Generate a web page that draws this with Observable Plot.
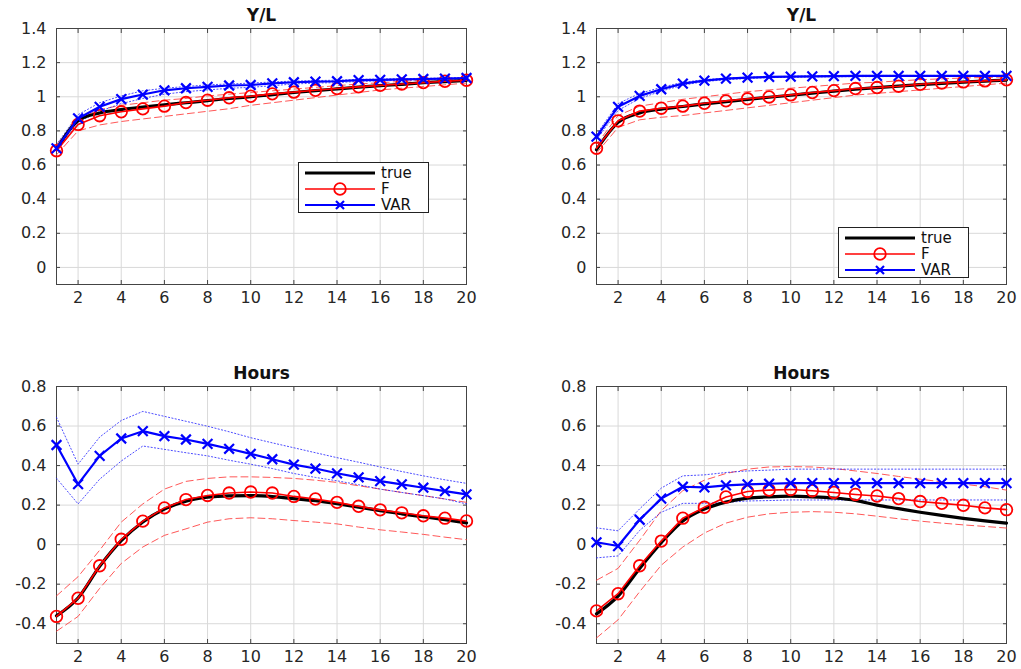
<!DOCTYPE html>
<html>
<head>
<meta charset="utf-8">
<script src="https://cdn.jsdelivr.net/npm/d3@7"></script>
<script src="https://cdn.jsdelivr.net/npm/@observablehq/plot@0.6"></script>
<style>
  html, body { margin: 0; padding: 0; background: #fff; }
  #root { position: relative; width: 1021px; height: 669px; overflow: hidden; font-family: "DejaVu Sans", sans-serif; }
  .panel { position: absolute; overflow: visible; }
  .legend { position: absolute; background: #fff; border: 1px solid #222; box-sizing: border-box; }
  .legend .row { position: absolute; left: 0; height: 16px; width: 100%; }
  .legend .row svg { position: absolute; left: 6px; top: 0; }
  .legend .row span { position: absolute; left: 82px; top: 0px; font-size: 15px; color: #111; line-height: 16px; }
</style>
</head>
<body>
<div id="root"></div>
<script>
// horizons
const steps = [1,2,3,4,5,6,7,8,9,10,11,12,13,14,15,16,17,18,19,20];
const seriesNames = ["true", "F", "VAR"];
const titles = ["Y/L", "Y/L", "Hours", "Hours"];
const xTicks = [2,4,6,8,10,12,14,16,18,20];
const yTicksTop = [0,0.2,0.4,0.6,0.8,1,1.2,1.4];
const yTicksBottom = [-0.4,-0.2,0,0.2,0.4,0.6,0.8];

// ---- Panel 1: top-left, Y/L ----
const tlTrue  = [0.69,0.86,0.905,0.925,0.94,0.953,0.965,0.977,0.99,1.0,1.013,1.025,1.036,1.046,1.056,1.065,1.073,1.082,1.089,1.096];
const tlF     = [0.684,0.838,0.889,0.912,0.929,0.945,0.966,0.98,0.994,1.003,1.017,1.027,1.038,1.048,1.058,1.067,1.075,1.083,1.091,1.097];
const tlFUp   = [0.72,0.87,0.925,0.95,0.965,0.98,0.99,1.005,1.015,1.025,1.035,1.045,1.055,1.065,1.075,1.082,1.09,1.097,1.103,1.108];
const tlFLo   = [0.66,0.80,0.835,0.855,0.87,0.885,0.90,0.915,0.93,0.95,0.965,0.98,0.995,1.01,1.025,1.04,1.05,1.06,1.07,1.08];
const tlVar   = [0.698,0.873,0.941,0.986,1.013,1.038,1.05,1.058,1.066,1.069,1.079,1.085,1.089,1.091,1.097,1.099,1.102,1.104,1.106,1.11];
const tlVarUp = [0.72,0.895,0.965,1.005,1.035,1.05,1.06,1.07,1.075,1.08,1.087,1.092,1.095,1.097,1.102,1.104,1.106,1.108,1.11,1.114];
const tlVarLo = [0.68,0.85,0.915,0.96,0.99,1.015,1.03,1.04,1.05,1.055,1.065,1.075,1.08,1.083,1.09,1.093,1.097,1.1,1.102,1.106];

// ---- Panel 2: top-right, Y/L ----
const trTrue  = [0.69,0.85,0.905,0.928,0.943,0.958,0.972,0.985,0.997,1.009,1.021,1.033,1.044,1.053,1.062,1.071,1.079,1.086,1.092,1.098];
const trF     = [0.698,0.859,0.916,0.933,0.945,0.962,0.976,0.988,0.999,1.011,1.025,1.036,1.048,1.054,1.062,1.073,1.081,1.087,1.093,1.099];
const trFUp   = [0.72,0.89,0.945,0.965,0.985,1.0,1.015,1.03,1.04,1.05,1.06,1.07,1.08,1.085,1.093,1.1,1.105,1.11,1.113,1.116];
const trFLo   = [0.67,0.82,0.865,0.88,0.89,0.905,0.92,0.935,0.95,0.965,0.98,0.995,1.01,1.02,1.03,1.04,1.05,1.06,1.07,1.08];
const trVar   = [0.766,0.941,1.005,1.044,1.077,1.095,1.106,1.112,1.116,1.118,1.119,1.121,1.122,1.122,1.122,1.122,1.122,1.122,1.122,1.122];
const trVarUp = [0.78,0.96,1.02,1.055,1.085,1.1,1.11,1.115,1.118,1.12,1.123,1.124,1.125,1.125,1.125,1.125,1.125,1.125,1.125,1.125];
const trVarLo = [0.75,0.92,0.99,1.033,1.068,1.089,1.1,1.107,1.112,1.114,1.116,1.117,1.118,1.118,1.119,1.119,1.119,1.119,1.119,1.119];

// ---- Panel 3: bottom-left, Hours ----
const blTrue  = [-0.36,-0.27,-0.11,0.02,0.115,0.18,0.22,0.24,0.247,0.248,0.243,0.233,0.222,0.207,0.19,0.172,0.156,0.141,0.126,0.11];
const blF     = [-0.363,-0.271,-0.107,0.027,0.119,0.186,0.228,0.249,0.261,0.266,0.261,0.244,0.231,0.214,0.194,0.176,0.161,0.146,0.134,0.12];
const blFUp   = [-0.259,-0.162,-0.028,0.114,0.206,0.281,0.32,0.335,0.343,0.343,0.34,0.335,0.326,0.315,0.298,0.281,0.264,0.248,0.231,0.214];
const blFLo   = [-0.438,-0.363,-0.221,-0.095,-0.012,0.047,0.08,0.114,0.131,0.136,0.131,0.122,0.114,0.105,0.089,0.075,0.064,0.052,0.038,0.025];
const blVar   = [0.504,0.306,0.449,0.537,0.574,0.549,0.532,0.51,0.485,0.459,0.432,0.405,0.385,0.361,0.34,0.321,0.305,0.288,0.271,0.254];
const blVarUp = [0.644,0.407,0.544,0.628,0.674,0.649,0.624,0.599,0.571,0.541,0.515,0.49,0.465,0.44,0.417,0.393,0.37,0.348,0.328,0.31];
const blVarLo = [0.336,0.206,0.331,0.423,0.499,0.482,0.465,0.449,0.427,0.407,0.385,0.36,0.34,0.323,0.303,0.281,0.264,0.248,0.231,0.206];

// ---- Panel 4: bottom-right, Hours ----
const brTrue  = [-0.35,-0.26,-0.12,0.01,0.12,0.18,0.215,0.235,0.242,0.245,0.242,0.236,0.224,0.2,0.182,0.164,0.148,0.133,0.12,0.109];
const brF     = [-0.335,-0.248,-0.107,0.018,0.134,0.189,0.241,0.269,0.276,0.279,0.273,0.264,0.254,0.246,0.233,0.218,0.209,0.199,0.186,0.177];
const brFUp   = [-0.18,-0.12,0.022,0.172,0.273,0.326,0.36,0.382,0.393,0.395,0.393,0.385,0.373,0.36,0.345,0.331,0.318,0.306,0.293,0.276];
const brFLo   = [-0.472,-0.38,-0.238,-0.104,-0.012,0.059,0.109,0.139,0.156,0.164,0.167,0.164,0.156,0.144,0.131,0.119,0.109,0.1,0.092,0.084];
const brVar   = [0.012,-0.007,0.126,0.233,0.293,0.29,0.3,0.305,0.308,0.311,0.311,0.311,0.311,0.311,0.311,0.311,0.311,0.311,0.311,0.311];
const brVarUp = [0.085,0.07,0.181,0.286,0.348,0.353,0.365,0.373,0.377,0.382,0.382,0.382,0.382,0.382,0.382,0.382,0.382,0.382,0.382,0.382];
const brVarLo = [-0.067,-0.057,0.072,0.164,0.209,0.209,0.214,0.221,0.223,0.226,0.226,0.226,0.226,0.226,0.226,0.226,0.226,0.226,0.226,0.226];

const toRows = arr => steps.map((s, i) => ({step: s, value: arr[i]}));
const fmt = d => String(Math.round(d * 10) / 10);

function panel(cfg) {
  const {title, yDomain, yTicks, trueV, fV, fUp, fLo, vV, vUp, vLo, width, height, margins} = cfg;
  return Plot.plot({
    width, height,
    marginLeft: margins[0], marginRight: margins[1], marginTop: margins[2], marginBottom: margins[3],
    style: {fontFamily: "DejaVu Sans, sans-serif", fontSize: "16px", color: "#262626", background: "#fff", overflow: "visible"},
    x: {domain: [1, 20], ticks: xTicks, label: null},
    y: {domain: yDomain, ticks: yTicks, label: null, tickFormat: fmt},
    marks: [
      Plot.gridX(xTicks, {stroke: "#d9d9d9", strokeOpacity: 1}),
      Plot.gridY(yTicks, {stroke: "#d9d9d9", strokeOpacity: 1}),
      Plot.axisX({ticks: xTicks, tickSize: -4, tickPadding: 11, stroke: "#444", fill: "#262626", fontSize: 16}),
      Plot.axisY({ticks: yTicks, tickSize: -4, tickPadding: 14, tickFormat: fmt, stroke: "#444", fill: "#262626", fontSize: 16}),
      Plot.axisY({ticks: yTicks, anchor: "right", tickSize: -4, tickFormat: () => "", stroke: "#444"}),
      Plot.axisX({ticks: xTicks, anchor: "top", tickSize: -4, tickFormat: () => "", stroke: "#444"}),
      Plot.frame({stroke: "#444", strokeWidth: 1}),
      // bands
      Plot.line(toRows(fUp), {x: "step", y: "value", stroke: "#ff3b3b", strokeOpacity: 0.85, strokeWidth: 1, strokeDasharray: "7,4"}),
      Plot.line(toRows(fLo), {x: "step", y: "value", stroke: "#ff3b3b", strokeOpacity: 0.85, strokeWidth: 1, strokeDasharray: "7,4"}),
      Plot.line(toRows(vUp), {x: "step", y: "value", stroke: "#2020ff", strokeOpacity: 0.8, strokeWidth: 1, strokeDasharray: "1.2,2.2"}),
      Plot.line(toRows(vLo), {x: "step", y: "value", stroke: "#2020ff", strokeOpacity: 0.8, strokeWidth: 1, strokeDasharray: "1.2,2.2"}),
      // true
      Plot.line(toRows(trueV), {x: "step", y: "value", stroke: "#000", strokeWidth: 3.2, curve: "monotone-x"}),
      // F
      Plot.line(toRows(fV), {x: "step", y: "value", stroke: "#ff0000", strokeWidth: 1.6}),
      Plot.dot(toRows(fV), {x: "step", y: "value", r: 5.8, stroke: "#ff0000", strokeWidth: 1.8, fill: "none"}),
      // VAR
      Plot.line(toRows(vV), {x: "step", y: "value", stroke: "#0000ff", strokeWidth: 2.2}),
      Plot.dot(toRows(vV), {x: "step", y: "value", symbol: "times", r: 4.5, stroke: "#0000ff", strokeWidth: 2.2}),
      // title
      Plot.text([title], {frameAnchor: "top", lineAnchor: "middle", dy: -13, fontWeight: "bold", fontSize: 17, fill: "#111"})
    ]
  });
}

const root = document.getElementById("root");
function place(node, left, top) {
  node.classList.add("panel");
  node.style.left = left + "px";
  node.style.top = top + "px";
  root.appendChild(node);
}

place(panel({title: titles[0], yDomain: [-0.1, 1.4], yTicks: yTicksTop, trueV: tlTrue, fV: tlF, fUp: tlFUp, fLo: tlFLo, vV: tlVar, vUp: tlVarUp, vLo: tlVarLo,
  width: 510, height: 320, margins: [56, 44, 28, 36]}), 0, 0);
place(panel({title: titles[1], yDomain: [-0.1, 1.4], yTicks: yTicksTop, trueV: trTrue, fV: trF, fUp: trFUp, fLo: trFLo, vV: trVar, vUp: trVarUp, vLo: trVarLo,
  width: 511, height: 320, margins: [86, 15, 28, 36]}), 510, 0);
place(panel({title: titles[2], yDomain: [-0.5, 0.8], yTicks: yTicksBottom, trueV: blTrue, fV: blF, fUp: blFUp, fLo: blFLo, vV: blVar, vUp: blVarUp, vLo: blVarLo,
  width: 510, height: 339, margins: [56, 44, 56, 26]}), 0, 330);
place(panel({title: titles[3], yDomain: [-0.5, 0.8], yTicks: yTicksBottom, trueV: brTrue, fV: brF, fUp: brFUp, fLo: brFLo, vV: brVar, vUp: brVarUp, vLo: brVarLo,
  width: 511, height: 339, margins: [86, 15, 56, 26]}), 510, 330);

// legends
function legend(left, top) {
  const box = document.createElement("div");
  box.className = "legend";
  box.style.left = left + "px"; box.style.top = top + "px";
  box.style.width = "131px"; box.style.height = "51px";
  const styles = [
    {stroke: "#000", w: 3.2, marker: null},
    {stroke: "#ff0000", w: 1.6, marker: "circle"},
    {stroke: "#0000ff", w: 2.2, marker: "times"}
  ];
  seriesNames.forEach((name, i) => {
    const row = document.createElement("div");
    row.className = "row";
    row.style.top = (2 + i * 16) + "px";
    const s = styles[i];
    let m = "";
    if (s.marker === "circle") m = `<circle cx="35" cy="8" r="5.8" fill="none" stroke="${s.stroke}" stroke-width="1.8"/>`;
    if (s.marker === "times") m = `<path d="M31,4L39,12M39,4L31,12" stroke="${s.stroke}" stroke-width="2.2"/>`;
    row.innerHTML = `<svg width="72" height="16"><line x1="0" y1="8" x2="70" y2="8" stroke="${s.stroke}" stroke-width="${s.w}"/>${m}</svg><span>${name}</span>`;
    box.appendChild(row);
  });
  root.appendChild(box);
}
legend(298, 162);
legend(838, 227);
</script>
</body>
</html>
